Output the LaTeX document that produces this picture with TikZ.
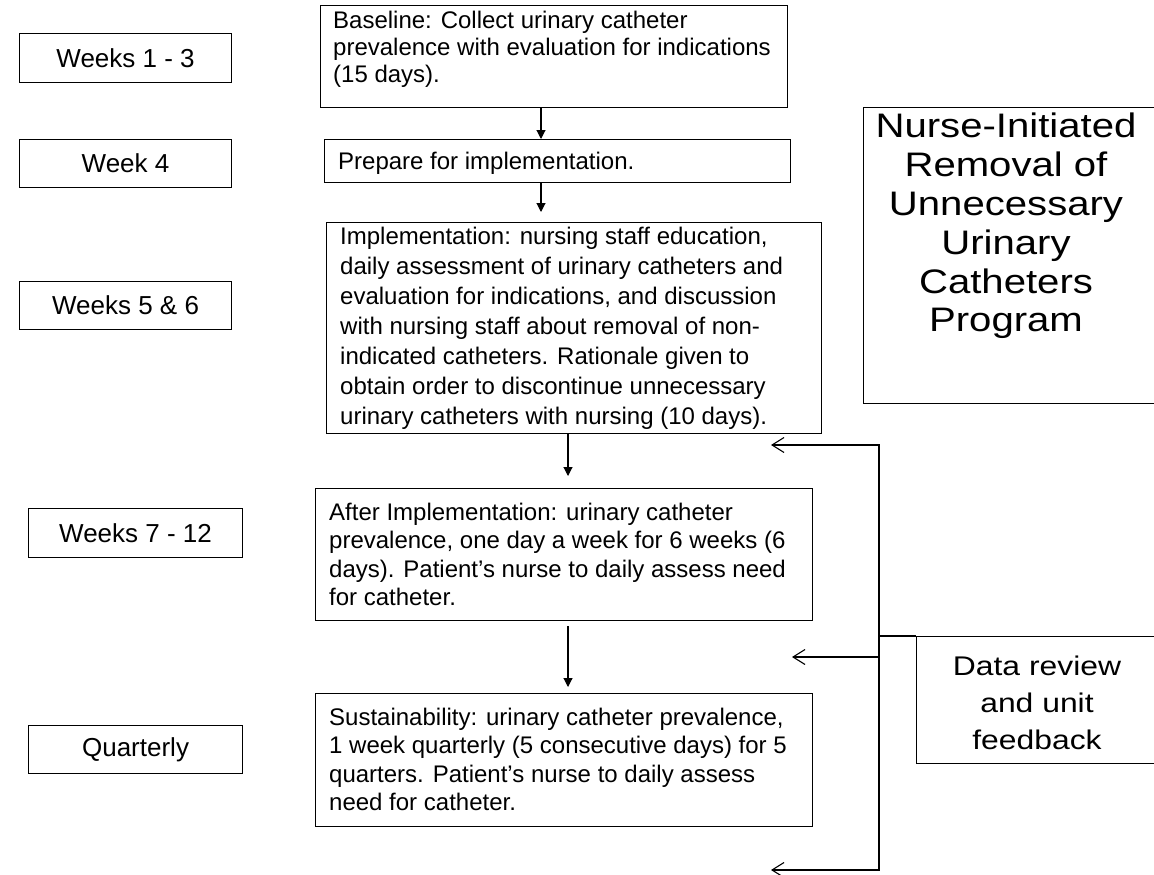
\documentclass[tikz,border=0pt]{standalone}
\usepackage{fontspec}
\setmainfont{Liberation Sans}
\newfontfamily\widefont[FakeStretch=1.18]{Liberation Sans}
\usetikzlibrary{arrows.meta}
\begin{document}
\begin{tikzpicture}[x=1pt,y=-1pt,
  frame/.style={draw=black, line width=1.1pt, inner sep=0pt, anchor=north west},
  txt/.style={font=\fontsize{24}{27}\selectfont, align=left, inner sep=0pt, anchor=north west},
  lbl/.style={font=\fontsize{26}{30}\selectfont, inner sep=0pt},
  flow/.style={line width=1.1pt, -{Triangle[length=9pt,width=9pt]}},
  fb/.style={line width=1.1pt},
  fbarrow/.style={line width=1.1pt, -{Straight Barb[length=12pt,width=15pt]}}]
\useasboundingbox (0,0) rectangle (1154,875);

% left timeline boxes
\node[frame, minimum width=212pt, minimum height=49pt] (W1) at (19,33) {};
\node[lbl] (W1t) at (W1.center) {Weeks 1 - 3};
\node[frame, minimum width=212pt, minimum height=48pt] (W4) at (19,139) {};
\node[lbl] (W4t) at (W4.center) {Week 4};
\node[frame, minimum width=212pt, minimum height=48pt] (W56) at (19,281) {};
\node[lbl] (W56t) at (W56.center) {Weeks 5 \& 6};
\node[frame, minimum width=214pt, minimum height=49pt] (W712) at (28,508) {};
\node[lbl] (W712t) at (W712.center) {Weeks 7 - 12};
\node[frame, minimum width=214pt, minimum height=48pt] (Q) at (28,725) {};
\node[lbl] (Qt) at (Q.center) {Quarterly};

% middle process boxes
\node[frame, minimum width=467pt, minimum height=102pt] (B) at (320,5) {};
\node[txt] (Bt) at (333,11) {Baseline: Collect urinary catheter\\prevalence with evaluation for indications\\(15 days).};

\node[frame, minimum width=466pt, minimum height=43pt] (P) at (324,139) {};
\node[txt, anchor=base west] (Pt) at (338,169) {Prepare for implementation.};

\node[frame, minimum width=495pt, minimum height=211pt] (I) at (326,222) {};
\node[txt, font=\fontsize{24}{30}\selectfont] (It) at (340,227) {Implementation: nursing staff education,\\daily assessment of urinary catheters and\\evaluation for indications, and discussion\\with nursing staff about removal of non-\\indicated catheters. Rationale given to\\obtain order to discontinue unnecessary\\urinary catheters with nursing (10 days).};

\node[frame, minimum width=497pt, minimum height=132pt] (A) at (315,488) {};
\node[txt, font=\fontsize{24}{28.3}\selectfont] (At) at (329,503) {After Implementation: urinary catheter\\prevalence, one day a week for 6 weeks (6\\days). Patient’s nurse to daily assess need\\for catheter.};

\node[frame, minimum width=497pt, minimum height=133pt] (S) at (315,693) {};
\node[txt, font=\fontsize{24}{28.3}\selectfont] (St) at (329,708) {Sustainability: urinary catheter prevalence,\\1 week quarterly (5 consecutive days) for 5\\quarters. Patient’s nurse to daily assess\\need for catheter.};

% right boxes
\node[frame, minimum width=293pt, minimum height=296pt] (T) at (863,107) {};
\node[font=\widefont\fontsize{34}{38.8}\selectfont, align=center, inner sep=0pt, anchor=north] (Tt) at (1006,113) {Nurse-Initiated\\Removal of\\Unnecessary\\Urinary\\Catheters\\Program};

\node[frame, minimum width=242pt, minimum height=127pt] (D) at (916,636) {};
\node[font=\widefont\fontsize{27}{36.7}\selectfont, align=center, inner sep=0pt] (Dt) at (1037,703) {Data review\\and unit\\feedback};

% flow arrows
\coordinate (x1) at (541,0);
\coordinate (x2) at (568,0);
\draw[flow] (B.south -| x1) -- (P.north -| x1);
\draw[flow, shorten >=10pt] (P.south -| x1) -- (I.north -| x1);
\draw[flow, shorten >=12pt] (I.south -| x2) -- (A.north -| x2);
\draw[flow, shorten <=5pt, shorten >=6pt] (A.south -| x2) -- (S.north -| x2);

% feedback connectors
\coordinate (fb1) at (771,445);
\coordinate (fb2) at (792,657);
\coordinate (fb3) at (771,870);
\coordinate (j1) at (879,636);
\coordinate (j2) at (879,657);
\draw[fb] (D.north west) -- (j1);
\draw[fbarrow] (j1) |- (fb3);
\draw[fbarrow] (j2) |- (fb1);
\draw[fbarrow] (j2) -- (fb2);
\end{tikzpicture}
\end{document}
